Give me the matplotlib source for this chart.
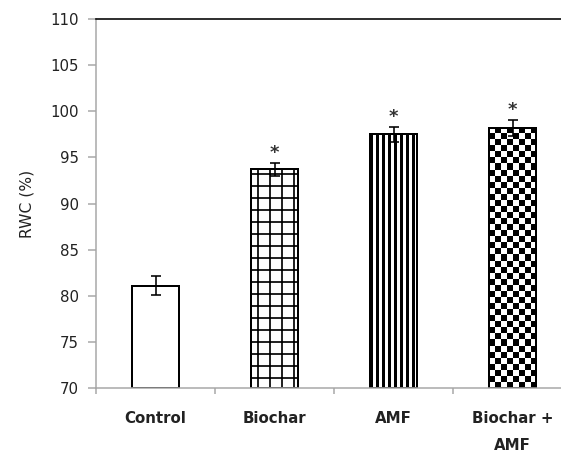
import numpy as np
import matplotlib
matplotlib.use("Agg")
import matplotlib.pyplot as plt

# data
groups = ["Control", "Biochar", "AMF", "Biochar +\nAMF"]
rwc = [81.1, 93.7, 97.5, 98.2]
rwc_err = [1.0, 0.7, 0.8, 0.9]
signif = ["", "*", "*", "*"]
fills = ["plain", "grid", "stripes", "checker"]

DPI = 72
fig = plt.figure(figsize=(561 / DPI, 452 / DPI), dpi=DPI)
# axes right edge runs past the figure like in the reference
ax = fig.add_axes([96 / 561, 64 / 452, 476 / 561, 369 / 452])

x = np.arange(len(groups))
width = 0.40
ax.set_xlim(-0.5, 3.5)
ax.set_ylim(70, 110)

bars = ax.bar(x, np.array(rwc) - 70, width, bottom=70, color="white",
              edgecolor="black", linewidth=2, zorder=2)


def pattern_fill(bar, cell, kind):
    # paint a bitmap pattern inside the bar
    bx0, bx1 = bar.get_x(), bar.get_x() + bar.get_width()
    by0, by1 = bar.get_y(), bar.get_y() + bar.get_height()
    p0 = ax.transData.transform((bx0, by0))
    p1 = ax.transData.transform((bx1, by1))
    nx = max(1, int(round(abs(p1[0] - p0[0]) / cell)))
    ny = max(1, int(round(abs(p1[1] - p0[1]) / cell)))
    if kind == "checker":
        arr = np.add.outer(np.arange(ny), np.arange(nx)) % 2
    else:
        arr = np.tile(np.arange(nx) % 2 == 0, (ny, 1))
    im = ax.imshow(arr.astype(float), cmap="gray_r", vmin=0, vmax=1,
                   extent=(bx0, bx1, by0, by1), aspect="auto",
                   interpolation="nearest", origin="lower", zorder=2.2)
    im.set_clip_path(bar)
    ax.bar(bar.get_x() + bar.get_width() / 2, bar.get_height(), bar.get_width(),
           bottom=by0, fill=False, edgecolor="black", linewidth=2, zorder=2.5)


for b, f in zip(bars, fills):
    if f == "grid":
        b.set_hatch("+")
        if hasattr(b, "set_hatch_linewidth"):
            b.set_hatch_linewidth(1.7)
    elif f == "stripes":
        pattern_fill(b, 3.0, "stripes")
    elif f == "checker":
        pattern_fill(b, 6.0, "checker")

ax.set_xlim(-0.5, 3.5)
ax.set_ylim(70, 110)

ax.errorbar(x, rwc, yerr=rwc_err, fmt="none", ecolor="black", elinewidth=1.6,
            capsize=5, capthick=1.6, zorder=3)

for xi, v, e, s in zip(x, rwc, rwc_err, signif):
    if s:
        ax.text(xi, v + e + 0.5, s, ha="center", va="baseline", fontsize=18,
                fontweight="bold", color="#333333")

# axes styling
gray = "#a6a6a6"
for side in ["left", "bottom"]:
    ax.spines[side].set_color(gray)
    ax.spines[side].set_linewidth(1.5)
ax.spines["top"].set_color("black")
ax.spines["top"].set_linewidth(1.6)
ax.spines["right"].set_visible(False)

ax.set_yticks(np.arange(70, 111, 5))
ax.tick_params(axis="y", direction="out", length=8, width=1.5, color=gray,
               labelsize=15, labelcolor="#222222", pad=9)
ax.set_xticks(x)
ax.set_xticklabels(groups, fontsize=15, fontweight="bold", color="#222222",
                   linespacing=2.0, va="top")
ax.set_xticks(np.arange(-0.5, 3.6, 1), minor=True)
ax.tick_params(axis="x", which="major", length=0, pad=23)
ax.tick_params(axis="x", which="minor", direction="out", length=6, width=1.5,
               color=gray)

ax.set_ylabel("RWC (%)", fontsize=15.5, color="#222222", labelpad=16)

fig.savefig("out.png", dpi=DPI)
